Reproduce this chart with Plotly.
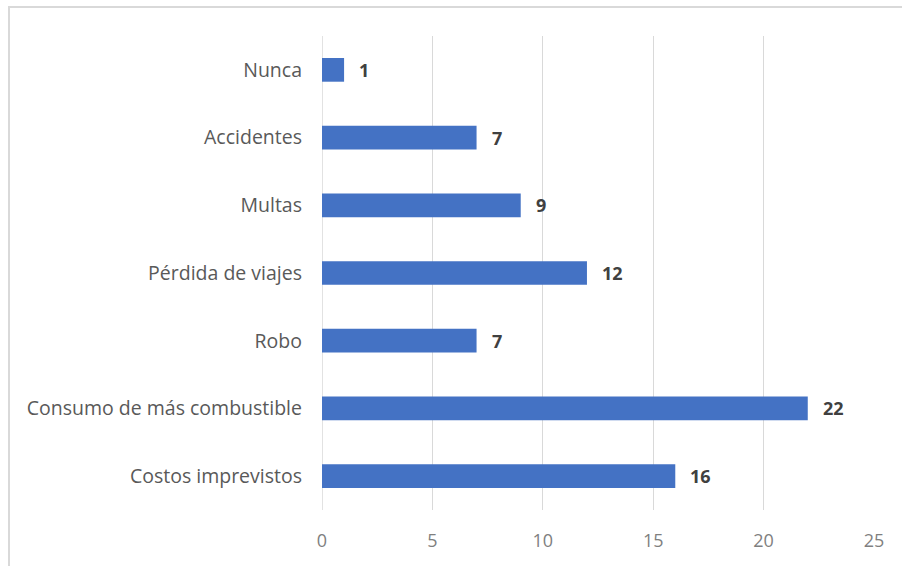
import plotly.graph_objects as go

# Survey responses, listed bottom to top as drawn on the category axis
categorias = [
    "Costos imprevistos",
    "Consumo de más combustible",
    "Robo",
    "Pérdida de viajes",
    "Multas",
    "Accidentes",
    "Nunca",
]
valores = [16, 22, 7, 12, 9, 7, 1]
ticks_x = [0, 5, 10, 15, 20, 25]

AZUL = "#4472C4"
GRIS_TEXTO = "#595959"
GRIS_REJILLA = "#d9d9d9"

fig = go.Figure(
    go.Bar(
        x=valores,
        y=categorias,
        orientation="h",
        marker=dict(color=AZUL, line=dict(width=0)),
        width=0.35,
    )
)

# Bold value labels just past the end of each bar
for cat, v in zip(categorias, valores):
    fig.add_annotation(
        x=v,
        y=cat,
        text=str(v),
        showarrow=False,
        xanchor="left",
        xshift=13,
        font=dict(family="Open Sans", size=18, color="#404040", weight="bold"),
    )

fig.update_layout(
    width=902,
    height=566,
    margin=dict(l=322, r=28, t=36, b=56),
    paper_bgcolor="white",
    plot_bgcolor="white",
    showlegend=False,
    font=dict(family="Open Sans", size=18, color=GRIS_TEXTO),
    xaxis=dict(
        range=[0, 25],
        tickvals=ticks_x,
        ticktext=[str(t) for t in ticks_x],
        showgrid=True,
        gridcolor=GRIS_REJILLA,
        gridwidth=1,
        zeroline=False,
        showline=False,
        ticks="",
        tickfont=dict(size=18, color="#7f7f7f"),
        ticklabelstandoff=18,
    ),
    yaxis=dict(
        categoryorder="array",
        categoryarray=categorias,
        showgrid=False,
        zeroline=False,
        showline=False,
        ticks="",
        tickfont=dict(size=19.5, color=GRIS_TEXTO),
        ticklabelstandoff=19,
    ),
    shapes=[
        # chart frame (runs off the right and bottom edges)
        dict(
            type="rect",
            xref="paper",
            yref="paper",
            x0=(9 - 322) / 552,
            x1=(910 - 322) / 552,
            y0=(510 - 575) / 474,
            y1=(510 - 7) / 474,
            line=dict(color=GRIS_REJILLA, width=2),
            layer="below",
        ),
        # value axis baseline at zero
        dict(
            type="line",
            xref="x",
            yref="paper",
            x0=0,
            x1=0,
            y0=0,
            y1=1,
            line=dict(color=GRIS_REJILLA, width=1.5),
            layer="below",
        ),
    ],
)

fig.write_html("out.html")
